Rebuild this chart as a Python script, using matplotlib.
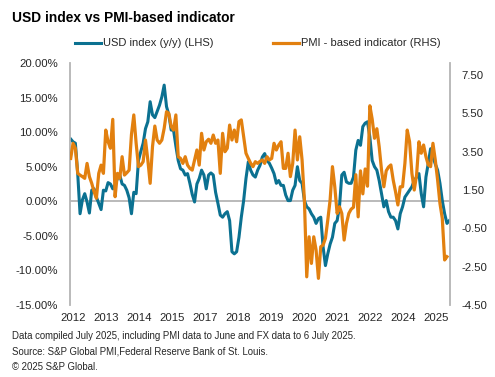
import matplotlib
matplotlib.use('Agg')
import matplotlib.pyplot as plt
import numpy as np
from matplotlib.ticker import FuncFormatter

plt.rcParams['font.family'] = ['Liberation Sans', 'DejaVu Sans']

# Data: monthly, Jan 2012 onwards
# USD index, y/y % change (LHS), Jan 2012 - Jul 2025
usd_yoy = [
    9.0, 8.6, 8.4, 4.0, -1.8, 0.2, 1.1, -0.1, -1.7, 1.6, 1.8, 0.6,        # 2012
    -0.3, -1.2, 1.6, 1.5, 2.7, 2.5, 1.8, 2.4, 3.3, 3.8, 2.5, 2.3,         # 2013
    1.6, 0.5, -1.8, 1.3, 1.1, 5.9, 7.2, 8.4, 10.5, 11.5, 14.4, 12.5,      # 2014
    12.1, 13.0, 13.9, 15.1, 16.8, 13.7, 12.5, 10.3, 10.3, 8.0, 5.9, 4.7,  # 2015
    4.5, 3.8, 4.0, 2.6, 1.0, -0.1, 2.5, 3.3, 4.5, 3.8, 1.8, 3.8,          # 2016
    4.1, 3.8, 1.3, -0.3, -2.0, -2.3, -1.8, -1.5, -2.8, -7.3, -7.6, -7.3,  # 2017
    -5.2, -2.3, 0.1, 3.3, 5.7, 4.5, 3.8, 3.5, 4.5, 5.2, 6.4, 6.9,         # 2018
    5.9, 5.5, 4.8, 4.0, 2.6, 3.0, 2.3, 2.3, 0.9, 0.1, 0.1, 1.6,           # 2019
    2.3, 5.0, 3.0, 2.6, 0.1, -0.8, -1.1, -1.8, -2.3, -3.2, -2.5, -2.3,    # 2020
    -6.6, -9.3, -7.6, -6.2, -5.2, -3.2, -2.8, -0.8, 3.8, 4.2, 2.8, 2.6,   # 2021
    2.6, 3.5, 7.4, 8.8, 8.1, 10.8, 11.3, 11.5, 9.3, 5.9, 5.0, 4.5,        # 2022
    3.0, 1.1, -0.8, 0.1, -1.5, -2.3, -2.3, -2.8, -4.0, -1.8, -0.8, 0.6,   # 2023
    1.1, 1.6, 2.1, 3.0, 3.5, 4.0, 1.1, -0.8, 3.5, 5.5, 7.6, 6.4,          # 2024
    5.4, 4.5, 2.6, 0.1, -1.8, -3.2, -2.8,                                 # 2025
]

# PMI-based indicator (RHS), Jan 2012 - Jun 2025
pmi_indicator = [
    3.15, 3.94, 3.68, 2.37, 2.28, 2.20, 2.11, 2.89, 2.20, 1.85, 1.41, 1.07,        # 2012
    2.37, 2.80, 2.37, 4.63, 4.02, 3.68, 5.19, 1.15, 2.37, 2.11, 3.24, 2.28,        # 2013
    2.40, 2.54, 4.40, 5.42, 3.94, 2.72, 2.80, 2.98, 4.11, 3.07, 1.85, 3.76,        # 2014
    4.84, 4.11, 3.94, 4.11, 4.72, 5.59, 5.50, 4.81, 4.63, 5.42, 3.24, 3.15,        # 2015
    2.89, 3.24, 2.80, 2.63, 2.54, 3.07, 3.59, 2.80, 4.46, 3.59, 4.02, 4.15,        # 2016
    3.94, 4.37, 3.94, 4.11, 2.37, 4.46, 3.50, 3.68, 4.89, 4.11, 4.63, 4.02,        # 2017
    5.07, 5.16, 4.28, 3.42, 3.15, 2.90, 2.72, 2.98, 2.89, 3.00, 3.07, 2.89,        # 2018
    3.24, 3.07, 3.15, 3.94, 3.59, 3.85, 4.02, 2.63, 2.63, 3.42, 2.20, 2.89,        # 2019
    4.63, 3.07, 4.28, 3.07, 0.98, -3.03, -0.94, -2.33, -0.94, -1.63, -3.11, -1.46, # 2020
    -1.37, -1.02, -0.07, 0.98, 2.72, 1.67, 0.28, 0.63, 0.28, -1.11, -0.24, 0.28,   # 2021
    0.50, 0.60, 2.30, 0.10, 2.50, 1.30, 2.60, 1.70, 5.90, 5.20, 4.20, 4.70,        # 2022
    3.76, 2.54, 1.67, 2.50, 2.70, 2.81, 2.02, 1.41, 0.72, 1.67, 1.67, 2.89,        # 2023
    4.63, 4.02, 2.37, 1.50, 2.28, 4.02, 3.42, 3.85, 3.24, 2.81, 2.72, 3.94,        # 2024
    3.07, 2.02, 0.80, 0.02, -2.15, -1.98,                                          # 2025
]

# Category labels shown along the bottom (as printed on the chart)
xtick_labels = ['2012', '2013', '2014', '2015', '2017', '2018',
                '2019', '2020', '2021', '2022', '2024', '2025']

usd_label = 'USD index (y/y) (LHS)'
pmi_label = 'PMI - based indicator (RHS)'

# Colours
blue = '#0b7191'
orange = '#e2800f'
grey = '#b4b4b4'
text_col = '#262626'

fig = plt.figure(figsize=(4.95, 3.77), dpi=100)
ax = fig.add_axes([70 / 495, 1 - 305 / 377, 380 / 495, 242 / 377])
ax2 = ax.twinx()

x_usd = np.arange(len(usd_yoy))
x_pmi = np.arange(len(pmi_indicator))

line_usd, = ax.plot(x_usd, usd_yoy, color=blue, lw=2.2, solid_joinstyle='round')
line_pmi, = ax2.plot(x_pmi, pmi_indicator, color=orange, lw=2.3, solid_joinstyle='round')

# Left axis
ax.set_ylim(-15, 20)
ax.set_yticks(np.arange(-15, 21, 5))
ax.yaxis.set_major_formatter(FuncFormatter(lambda v, p: f'{v:.2f}%'))

# Right axis
ax2.set_ylim(-4.5, 8.13)
ax2.set_yticks(np.arange(-4.5, 7.6, 2))
ax2.yaxis.set_major_formatter(FuncFormatter(lambda v, p: f'{v:.2f}'))

ax.set_xlim(-0.3, 162.3)
ax.set_xticks(np.linspace(0.85, 156.5, len(xtick_labels)))
ax.set_xticklabels(xtick_labels)

# zero line of the left axis
ax.axhline(0, color=grey, lw=1.3, zorder=1)

for a in (ax, ax2):
    for s in ('top', 'bottom'):
        a.spines[s].set_visible(False)
    a.spines['left'].set_color(grey)
    a.spines['right'].set_color(grey)
    a.spines['left'].set_linewidth(1.3)
    a.spines['right'].set_linewidth(1.3)
    a.tick_params(length=0, labelsize=8.2, colors=text_col)
ax.spines['right'].set_visible(False)
ax2.spines['left'].set_visible(False)
ax.tick_params(axis='y', pad=8.5)
ax2.tick_params(axis='y', pad=8.5)
ax.tick_params(axis='x', pad=6)

# Title
fig.text(12 / 495, 1 - 18 / 377, 'USD index vs PMI-based indicator',
         fontsize=9.9, fontweight='bold', color='black', va='center', ha='left')

# Legend above the plot
fig.legend([line_usd, line_pmi], [usd_label, pmi_label], ncol=2,
           loc='center', bbox_to_anchor=(258 / 495, 1 - 43.5 / 377),
           frameon=False, fontsize=8, handlelength=2.35, handletextpad=0.2,
           columnspacing=5.3, borderpad=0, labelcolor=text_col)

# Footnotes
notes = ['Data compiled July 2025, including PMI data to June and FX data to 6 July 2025.',
         'Source: S&P Global PMI,Federal Reserve Bank of St. Louis.',
         '\u00a9 2025 S&P Global.']
for i, note in enumerate(notes):
    fig.text(12 / 495, 1 - (335.7 + 15.5 * i) / 377, note, fontsize=6.95,
             color=text_col, va='center', ha='left')

fig.savefig('out.png', dpi=100)
